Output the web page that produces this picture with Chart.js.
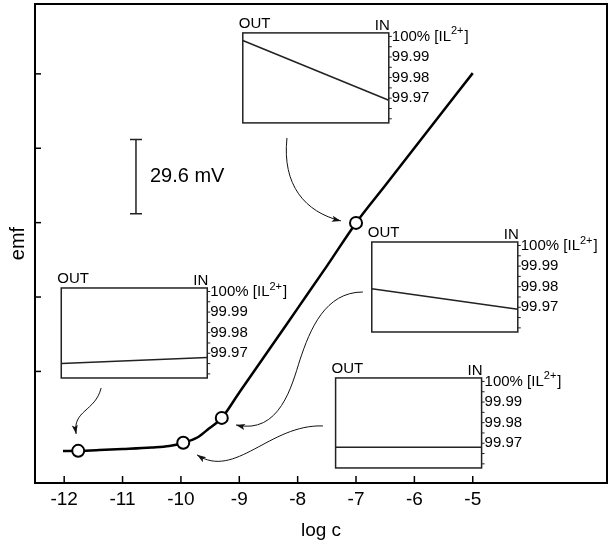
<!DOCTYPE html>
<html>
<head>
<meta charset="utf-8">
<script src="https://cdn.jsdelivr.net/npm/chart.js@4.4.1/dist/chart.umd.min.js"></script>
<style>
    html, body { margin: 0; padding: 0; background: #fff; }
    #wrap { width: 613px; height: 546px; }
</style>
</head>
<body>
<div id="wrap"><canvas id="emf-chart" width="613" height="546"></canvas></div>
<script>
// main response curve: emf (mV, relative) vs log c
const curveLogC = [-12.02, -11.76, -11.4, -11.0, -10.5, -10.2, -9.96, -9.72, -9.55, -9.3, -9.0, -8.5, -8.0, -7.5, -7.0, -6.5, -6.0, -5.5, -5.0];
const curveEmf  = [-31.7, -31.6, -31.3, -30.9, -30.3, -29.7, -28.4, -26.3, -23.3, -18.5, -8.4, 8.3, 25.1, 41.9, 59.1, 74.0, 88.9, 103.8, 118.7];

// open circles
const markerLogC = [-11.76, -9.96, -9.30, -7.00];
const markerEmf  = [-31.6, -28.4, -18.5, 59.1];

const xTicks = [-12, -11, -10, -9, -8, -7, -6, -5];
const yTicks = [0, 29.6, 59.2, 88.8, 118.4];

// insets: profile of [IL2+] from OUT to IN
const insetLabels = [100, 99.99, 99.98, 99.97];
const insetTicks = [100, 99.995, 99.99, 99.985, 99.98, 99.975, 99.97, 99.965, 99.96];
const insetRange = [99.958, 100.0017];
const insetOut = [99.998, 99.979, 99.965, 99.968];
const insetIn  = [99.969, 99.969, 99.968, 99.968];

// annotation placement (data coords)
const insetAnchorLogC = [-8.94, -6.73, -12.05, -7.35];
const insetAnchorEmf  = [134.7, 51.5, 33.2, -2.6];
const scaleBar = { logC: -10.77, top: 92.3, bottom: 62.7, label: '29.6 mV' };
const arrowPaths = [
    [[-8.183, 92.9], [-8.269, 74.2], [-7.875, 63.4], [-7.259, 59.9]],
    [[-11.367, -6.6], [-11.469, -16.1], [-11.863, -15.3], [-11.795, -24.9]],
    [[-6.883, 31.6], [-7.533, 31.6], [-7.790, 16.5], [-7.961, 4.6], [-8.098, -5.4], [-8.303, -25.3], [-9.056, -21.3]],
    [[-7.567, -21.7], [-8.474, -20.9], [-9.073, -43.2], [-9.724, -33.2]]
];

const FONT = '"Liberation Sans", Arial, sans-serif';
const INSET_W = 146, INSET_H = 90;

function toPx(chart, x, y) {
    return [chart.scales.x.getPixelForValue(x), chart.scales.y.getPixelForValue(y)];
}

function drawArrow(ctx, chart, path) {
    const p = path.map(([x, y]) => toPx(chart, x, y));
    ctx.beginPath();
    ctx.moveTo(p[0][0], p[0][1]);
    for (let i = 1; i + 2 < p.length; i += 3) {
        ctx.bezierCurveTo(p[i][0], p[i][1], p[i + 1][0], p[i + 1][1], p[i + 2][0], p[i + 2][1]);
    }
    ctx.stroke();
    const end = p[p.length - 1], prev = p[p.length - 2];
    const a = Math.atan2(end[1] - prev[1], end[0] - prev[0]);
    ctx.save();
    ctx.translate(end[0], end[1]);
    ctx.rotate(a);
    ctx.beginPath();
    ctx.moveTo(0, 0);
    ctx.lineTo(-9, -3);
    ctx.lineTo(-7, 0);
    ctx.lineTo(-9, 3);
    ctx.closePath();
    ctx.fill();
    ctx.restore();
}

function drawInset(ctx, chart, i) {
    const [bx, by] = toPx(chart, insetAnchorLogC[i], insetAnchorEmf[i]);
    const span = insetRange[1] - insetRange[0];
    const vy = v => by + (insetRange[1] - v) / span * INSET_H;

    ctx.fillStyle = '#fff';
    ctx.fillRect(bx, by, INSET_W, INSET_H);
    ctx.strokeStyle = '#222';
    ctx.lineWidth = 1.5;
    ctx.strokeRect(bx, by, INSET_W, INSET_H);

    ctx.beginPath();
    ctx.moveTo(bx, vy(insetOut[i]));
    ctx.lineTo(bx + INSET_W, vy(insetIn[i]));
    ctx.stroke();

    ctx.lineWidth = 1;
    insetTicks.forEach(v => {
        ctx.beginPath();
        ctx.moveTo(bx + INSET_W, vy(v));
        ctx.lineTo(bx + INSET_W + 3, vy(v));
        ctx.stroke();
    });

    ctx.fillStyle = '#000';
    ctx.textBaseline = 'alphabetic';
    ctx.font = `15px ${FONT}`;
    ctx.textAlign = 'left';
    ctx.fillText('OUT', bx - 4, by - 5);
    ctx.textAlign = 'right';
    ctx.fillText('IN', bx + INSET_W + 1, by - 3);

    ctx.textAlign = 'left';
    ctx.textBaseline = 'middle';
    const lx = bx + INSET_W + 3;
    insetLabels.forEach((v, k) => {
        ctx.font = `15px ${FONT}`;
        if (k === 0) {
            const head = '100% [IL';
            ctx.fillText(head, lx, vy(v));
            let w = ctx.measureText(head).width;
            ctx.font = `11px ${FONT}`;
            ctx.fillText('2+', lx + w, vy(v) - 5);
            w += ctx.measureText('2+').width;
            ctx.font = `15px ${FONT}`;
            ctx.fillText(']', lx + w + 1, vy(v));
        } else {
            ctx.fillText(v.toFixed(2), lx, vy(v));
        }
    });
}

const decorPlugin = {
    id: 'decor',
    beforeDatasetsDraw(chart) {
        const { ctx, chartArea: ca, scales } = chart;
        ctx.save();
        ctx.strokeStyle = '#000';
        ctx.fillStyle = '#000';

        // frame + inward ticks
        ctx.lineWidth = 2;
        ctx.strokeRect(ca.left, ca.top, ca.right - ca.left, ca.bottom - ca.top);
        ctx.lineWidth = 1.5;
        xTicks.forEach(v => {
            const x = scales.x.getPixelForValue(v);
            ctx.beginPath(); ctx.moveTo(x, ca.bottom); ctx.lineTo(x, ca.bottom - 7); ctx.stroke();
        });
        yTicks.forEach(v => {
            const y = scales.y.getPixelForValue(v);
            ctx.beginPath(); ctx.moveTo(ca.left, y); ctx.lineTo(ca.left + 6, y); ctx.stroke();
        });

        // 29.6 mV scale bar
        const [sx, sTop] = toPx(chart, scaleBar.logC, scaleBar.top);
        const sBot = scales.y.getPixelForValue(scaleBar.bottom);
        ctx.lineWidth = 1.5;
        ctx.strokeStyle = '#222';
        ctx.beginPath();
        ctx.moveTo(sx, sTop); ctx.lineTo(sx, sBot);
        ctx.moveTo(sx - 6, sTop); ctx.lineTo(sx + 6, sTop);
        ctx.moveTo(sx - 6, sBot); ctx.lineTo(sx + 6, sBot);
        ctx.stroke();
        ctx.font = `20px ${FONT}`;
        ctx.textBaseline = 'middle';
        ctx.textAlign = 'left';
        ctx.fillText(scaleBar.label, sx + 14, (sTop + sBot) / 2);

        // arrows
        ctx.lineWidth = 1;
        ctx.strokeStyle = '#111';
        ctx.fillStyle = '#111';
        arrowPaths.forEach(p => drawArrow(ctx, chart, p));

        for (let i = 0; i < insetOut.length; i++) drawInset(ctx, chart, i);
        ctx.restore();
    }
};

new Chart(document.getElementById('emf-chart'), {
    type: 'scatter',
    data: {
        datasets: [
            {
                data: markerLogC.map((x, i) => ({ x, y: markerEmf[i] })),
                showLine: false,
                order: 0,
                pointRadius: 6,
                pointBackgroundColor: '#fff',
                pointBorderColor: '#000',
                pointBorderWidth: 2
            },
            {
                data: curveLogC.map((x, i) => ({ x, y: curveEmf[i] })),
                showLine: true,
                order: 1,
                borderColor: '#000',
                borderWidth: 2.5,
                pointRadius: 0,
                cubicInterpolationMode: 'monotone'
            }
        ]
    },
    options: {
        responsive: false,
        animation: false,
        devicePixelRatio: 1,
        layout: { autoPadding: false, padding: { left: 0, right: 6, top: 4, bottom: 0 } },
        plugins: { legend: { display: false }, tooltip: { enabled: false } },
        scales: {
            x: {
                type: 'linear',
                min: -12.5,
                max: -2.7,
                afterBuildTicks: s => { s.ticks = xTicks.map(value => ({ value })); },
                afterFit: s => { s.height = 63; },
                grid: { display: false, drawTicks: false },
                border: { display: false },
                ticks: { color: '#000', padding: 5, font: { family: FONT, size: 19 }, maxRotation: 0 },
                title: { display: true, text: 'log c', color: '#000', padding: { top: 0, bottom: 4 }, font: { family: FONT, size: 19 } }
            },
            y: {
                type: 'linear',
                min: -44.4,
                max: 146.2,
                afterBuildTicks: s => { s.ticks = yTicks.map(value => ({ value })); },
                afterFit: s => { s.width = 35; },
                grid: { display: false, drawTicks: false },
                border: { display: false },
                ticks: { display: false },
                title: { display: true, text: 'emf', color: '#000', padding: { top: 6, bottom: 0 }, font: { family: FONT, size: 20 } }
            }
        }
    },
    plugins: [decorPlugin]
});
</script>
</body>
</html>
